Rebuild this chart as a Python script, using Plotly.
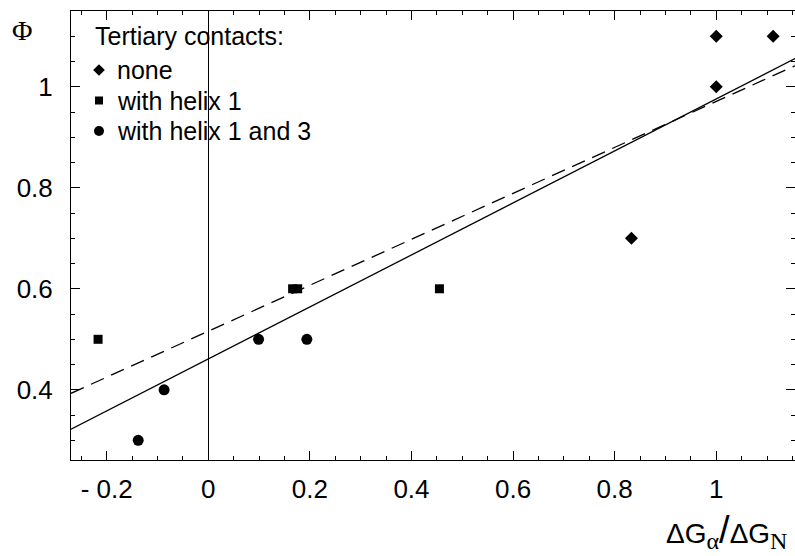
import plotly.graph_objects as go

# ---- data ----
none_x = [1.0, 1.112, 1.0, 0.833]
none_y = [1.1, 1.1, 1.0, 0.7]

helix1_x = [-0.217, 0.166, 0.176, 0.455]
helix1_y = [0.5, 0.6, 0.6, 0.6]

helix13_x = [-0.138, -0.087, 0.099, 0.194]
helix13_y = [0.3, 0.4, 0.5, 0.5]

# linear fits: (intercept, slope)
fit_solid = (0.461, 0.515)
fit_dashed = (0.516, 0.455)

x_range = [-0.2703, 1.155]
y_range = [0.261, 1.15]

x_tickvals = [-0.2, 0, 0.2, 0.4, 0.6, 0.8, 1]
x_ticktext = ["- 0.2", "0", "0.2", "0.4", "0.6", "0.8", "1"]
y_tickvals = [0.4, 0.6, 0.8, 1]
y_ticktext = ["0.4", "0.6", "0.8", "1"]

legend_title = "Tertiary contacts:"
legend_names = ["none", "with helix 1", "with helix 1 and 3"]
legend_symbols = ["diamond", "square", "circle"]
legend_sizes = [10, 9, 11]
legend_key_sizes = [9, 8, 10]

SANS = "Liberation Sans"
SERIF = "Liberation Serif"

W, H = 795, 556
L, R, T, B = 71, 0, 11, 96

fig = go.Figure()

for (b, m), dash in ((fit_dashed, "14px,8px"), (fit_solid, "solid")):
    fig.add_trace(go.Scatter(
        x=x_range, y=[b + m * x_range[0], b + m * x_range[1]],
        mode="lines", line=dict(color="black", width=1.3, dash=dash),
        showlegend=False, hoverinfo="skip"))

series = [(none_x, none_y), (helix1_x, helix1_y), (helix13_x, helix13_y)]
for (xs, ys), name, sym, sz in zip(series, legend_names, legend_symbols, legend_sizes):
    fig.add_trace(go.Scatter(x=xs, y=ys, mode="markers", name=name, showlegend=False,
                             marker=dict(symbol=sym, size=sz, color="black",
                                         line=dict(width=0))))

# legend keys drawn on a pixel-scaled overlay axis
leg_key_x = 99
leg_row_y = [70, 100.5, 131]
for sym, sz, ry in zip(legend_symbols, legend_key_sizes, leg_row_y):
    fig.add_trace(go.Scatter(
        x=[leg_key_x], y=[ry], mode="markers", showlegend=False, hoverinfo="skip",
        marker=dict(symbol=sym, size=sz, color="black", opacity=1, line=dict(width=0)),
        xaxis="x2", yaxis="y2"))

axis_common = dict(
    showline=True, linecolor="black", linewidth=1, mirror="ticks",
    ticks="inside", ticklen=9, tickwidth=1, tickcolor="black",
    showgrid=False, tickfont=dict(family=SANS, size=26, color="black"),
)

fig.update_xaxes(range=x_range, tickmode="array", tickvals=x_tickvals, ticktext=x_ticktext,
                 zeroline=True, zerolinecolor="black", zerolinewidth=1,
                 minor=dict(dtick=0.05, tick0=0, ticks="inside", ticklen=4, tickcolor="black"),
                 ticklabelstandoff=6, **axis_common)
fig.update_yaxes(range=y_range, tickmode="array", tickvals=y_tickvals, ticktext=y_ticktext,
                 zeroline=False,
                 minor=dict(dtick=0.05, tick0=0, ticks="inside", ticklen=4, tickcolor="black"),
                 ticklabelstandoff=12, **axis_common)

pw, ph = W - L - R, H - T - B


def px2paper(px, py):
    return (px - L) / pw, (H - B - py) / ph


annotations = [
    dict(text=legend_title, x=px2paper(93, 36)[0], y=px2paper(93, 36)[1],
         xref="paper", yref="paper", xanchor="left", yanchor="middle", showarrow=False,
         font=dict(family=SANS, size=25, color="black")),
]
for name, ry in zip(legend_names, leg_row_y):
    ax, ay = px2paper(115, ry)
    annotations.append(dict(text=name, x=ax, y=ay, xref="paper", yref="paper",
                            xanchor="left", yanchor="middle", showarrow=False,
                            font=dict(family=SANS, size=25, color="black")))

phx, phy = px2paper(22, 31)
annotations.append(dict(text="Φ", x=phx, y=phy, xref="paper", yref="paper",
                        xanchor="center", yanchor="middle", showarrow=False,
                        font=dict(family=SERIF, size=28, color="black")))
xtx, xty = px2paper(789, 531)
sub_style = "font-family:Liberation Serif;font-size:24px"
annotations.append(dict(
    text=(f'ΔG<sub><span style="{sub_style}">α</span></sub>'
          '<span style="font-size:38px">/</span>'
          f'ΔG<sub><span style="{sub_style}">N</span></sub>'),
    x=xtx, y=xty, xref="paper", yref="paper",
    xanchor="right", yanchor="middle", showarrow=False,
    font=dict(family=SANS, size=28, color="black")))

fig.update_layout(
    width=W, height=H, margin=dict(l=L, r=R, t=T, b=B),
    plot_bgcolor="white", paper_bgcolor="white", showlegend=False,
    xaxis2=dict(overlaying="x", range=[L, W - R], visible=False, fixedrange=True),
    yaxis2=dict(overlaying="y", range=[H - B, T], visible=False, fixedrange=True),
    annotations=annotations,
)

fig.write_html("out.html", config={"displayModeBar": False},
               post_script="document.body.style.margin='0';")
